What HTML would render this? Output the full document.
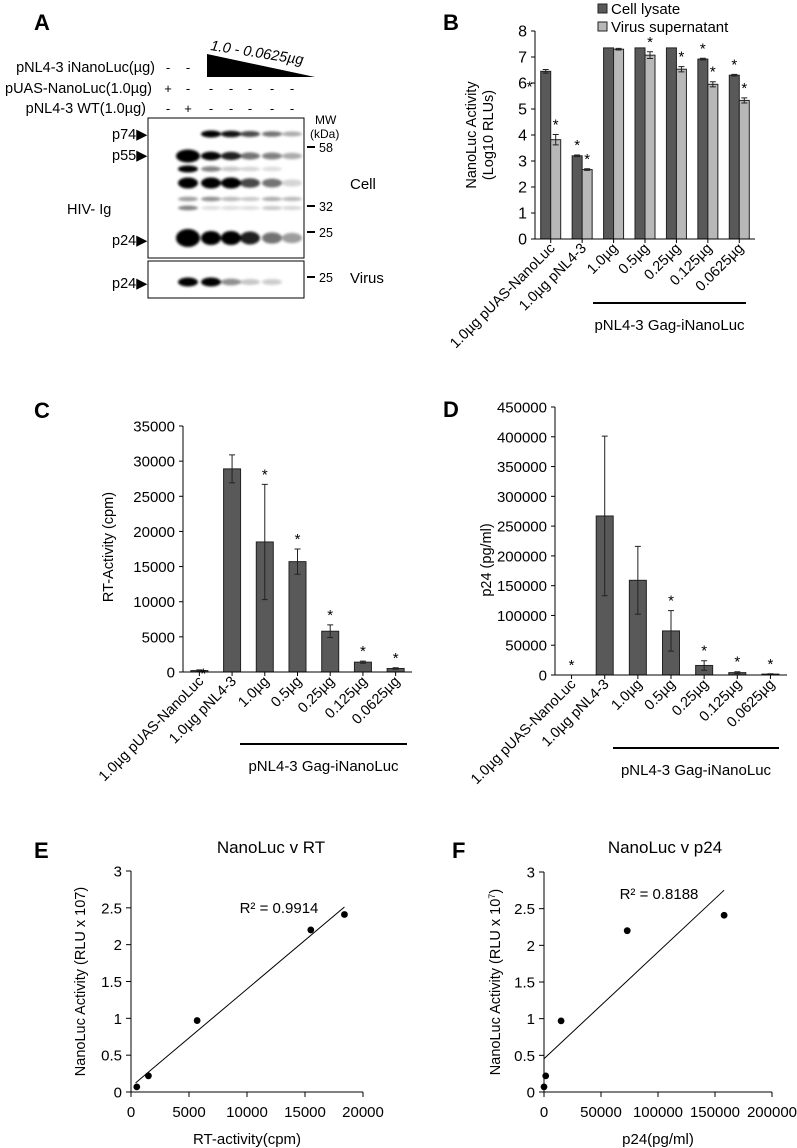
<!DOCTYPE html>
<html><head><meta charset="utf-8">
<style>
html,body{margin:0;padding:0;background:#fff;}
svg{display:block;font-family:"Liberation Sans",Arial,sans-serif;}
</style></head>
<body>
<svg id="fig" width="797" height="1148" viewBox="0 0 797 1148" xmlns="http://www.w3.org/2000/svg">
<defs>
<filter id="blur" x="-50%" y="-100%" width="200%" height="300%"><feGaussianBlur stdDeviation="1.3"/></filter>
</defs>
<g font-weight="bold" font-size="22" fill="#000">
<text x="34" y="30">A</text>
<text x="443" y="30">B</text>
<text x="34" y="418">C</text>
<text x="443" y="417">D</text>
<text x="34" y="858">E</text>
<text x="452" y="858">F</text>
</g>
<g id="blotA" font-size="14.5" fill="#000">
<text x="155" y="72" text-anchor="end">pNL4-3 iNanoLuc(µg)</text>
<text x="152" y="93" text-anchor="end">pUAS-NanoLuc(1.0µg)</text>
<text x="146" y="113" text-anchor="end">pNL4-3 WT(1.0µg)</text>
<polygon points="207,54 207,77 315,77" fill="#000"/>
<text x="210" y="50" font-style="italic" transform="rotate(9 210 50)">1.0 - 0.0625µg</text>
<rect x="148" y="118" width="156" height="140" fill="none" stroke="#000" stroke-width="1"/>
<rect x="148" y="261" width="156" height="37" fill="none" stroke="#000" stroke-width="1"/>
<text x="112" y="139">p74▶</text>
<text x="112" y="160">p55▶</text>
<text x="112" y="245">p24▶</text>
<text x="112" y="288">p24▶</text>
<text x="67" y="214">HIV- Ig</text>
<text x="315" y="124" font-size="12">MW</text>
<text x="310" y="138" font-size="12">(kDa)</text>
<g font-size="12.5">
<rect x="307" y="146" width="8" height="2"/><text x="319" y="152">58</text>
<rect x="307" y="205" width="8" height="2"/><text x="319" y="211">32</text>
<rect x="307" y="231" width="8" height="2"/><text x="319" y="237">25</text>
<rect x="307" y="276" width="8" height="2"/><text x="319" y="282">25</text>
</g>
<text x="350" y="189" font-size="15">Cell</text>
<text x="350" y="283" font-size="15">Virus</text>
<g id="signs" font-size="13"></g>
<g id="bands" filter="url(#blur)"></g>
</g>
<g id="chartB"></g>
<g id="chartC"></g>
<g id="chartD"></g>
<g id="chartE"></g>
<g id="chartF"></g>
</svg>
<script>
const NS='http://www.w3.org/2000/svg';
const categories=['1.0µg pUAS-NanoLuc','1.0µg pNL4-3','1.0µg','0.5µg','0.25µg','0.125µg','0.0625µg'];
const bTicks=['0','1','2','3','4','5','6','7','8'];
const bCellLysate=[6.45,3.2,7.35,7.35,7.35,6.92,6.3];
const bCellErr=[0.07,0.03,0,0,0,0.03,0.03];
const bVirus=[3.82,2.67,7.3,7.07,6.53,5.95,5.33];
const bVirusErr=[0.2,0.03,0.03,0.13,0.1,0.1,0.1];
const bCellStar=[1,1,0,0,0,1,1];
const bVirusStar=[1,1,0,1,1,1,1];
const cTicks=['0','5000','10000','15000','20000','25000','30000','35000'];
const cValues=[200,28900,18500,15700,5800,1400,500];
const cErr=[100,2000,8200,1800,900,150,100];
const cStar=[1,0,1,1,1,1,1];
const dTicks=['0','50000','100000','150000','200000','250000','300000','350000','400000','450000'];
const dValues=[0,267000,159000,74000,16000,4000,1500];
const dErr=[0,134000,57000,34000,8000,1500,500];
const dStar=[1,0,0,1,1,1,1];
const eX=[500,1500,5700,15500,18400];
const eY=[0.07,0.22,0.97,2.2,2.41];
const eXTicks=['0','5000','10000','15000','20000'];
const yTicks3=['0','0.5','1','1.5','2','2.5','3'];
const fX=[0,1500,15000,73000,158000];
const fY=[0.07,0.22,0.97,2.2,2.41];
const fXTicks=['0','50000','100000','150000','200000'];
const signInano=['-','-','','','','',''];
const signPuas=['+','-','-','-','-','-','-'];
const signWt=['-','+','-','-','-','-','-'];
const bandP74=[0,0,1,0.85,0.65,0.5,0.3];
const bandP55=[0,1,0.9,0.8,0.5,0.45,0.3];
const bandMid=[0,1,0.45,0.2,0.15,0.12,0];
const bandP41=[0,1,1,1,0.65,0.5,0.15];
const bandFaint=[0,0.35,0.4,0.25,0.2,0.3,0.25];
const bandFaint2=[0,0.45,0.12,0.12,0.12,0.2,0.15];
const bandP24=[0,1,1,1,0.8,0.5,0.35];
const bandVirus=[0,1,1,0.4,0.2,0.18,0];

function mk(tag,parent,attrs){const el=document.createElementNS(NS,tag);for(const k in attrs)el.setAttribute(k,attrs[k]);parent.appendChild(el);return el;}
function txt(parent,x,y,s,attrs,name){const el=mk('text',parent,Object.assign({x:x,y:y},attrs||{}));el.textContent=s;


return el;}

(function(){
 const laneX=[168,188,211,231,250,272,292];
 const signs=document.getElementById('signs');
 [[signInano,72],[signPuas,93],[signWt,113]].forEach((row,ri)=>{
  row[0].forEach((s,i)=>{if(s)txt(signs,laneX[i],row[1],s,{'text-anchor':'middle'},'sign-'+ri+'-'+i);});
 });
 const bands=document.getElementById('bands');
 const rows=[[bandP74,134,3.5,'p74'],[bandP55,156,4.5,'p55'],[bandMid,169,3.5,'p50'],[bandP41,183,5.5,'p41'],[bandFaint,199,3,'p33'],[bandFaint2,208,3,'p30'],[bandP24,238,7,'p24'],[bandVirus,282,4.5,'virus-p24']];
 rows.forEach(r=>{r[0].forEach((v,i)=>{if(v<=0)return;
  const big=(i===1&&(r[3]==='p24'||r[3]==='p55'))?2:0;
  const e=mk('ellipse',bands,{cx:laneX[i],cy:r[1],rx:10+big,ry:r[2]*(0.6+0.4*v)+big,fill:'#000','fill-opacity':Math.min(1,v*1.1)});
  
  
 });});
})();

function barChart(g,o){
 const x0=o.x0,x1=o.x1,y0=o.y0,y1=o.y1,n=categories.length,step=(x1-x0)/n;
 const ys=v=>y0-(v-o.min)/(o.max-o.min)*(y0-y1);
 const xc=i=>x0+step*(i+0.5);
 o.ticks.forEach((t,i)=>{const v=o.min+(o.max-o.min)*i/(o.ticks.length-1);const y=ys(v);
  const l=mk('line',g,{x1:x0-4,x2:x0,y1:y,y2:y,stroke:'#000'});
  
  
  txt(g,x0-8,y+5.5,t,{'text-anchor':'end','font-size':o.fs},'y-tick-label');
 });
 o.series.forEach((s,si)=>{
  s.vals.forEach((v,i)=>{
   const bx=xc(i)-o.bw*o.series.length/2+si*o.bw;
   const r=mk('rect',g,{x:bx,y:ys(v),width:o.bw,height:y0-ys(v),fill:s.fill,stroke:'#222','stroke-width':1});
   
   
   const cx=bx+o.bw/2,e=s.err[i];
   if(e>0){const p=mk('path',g,{d:`M${cx-3},${ys(v+e)}H${cx+3}M${cx},${ys(v+e)}V${ys(v-e)}M${cx-3},${ys(v-e)}H${cx+3}`,stroke:'#222','stroke-width':1,fill:'none'});
    
    }
   if(s.star[i]){let sx=cx,sy=ys(v+e)-5;
    if(s.starLeft&&i===0){sx=bx-11;sy=ys(v)+20;}
    if(o.starOnBar&&i===0){sy=ys(v)+8;sx=cx+4;}
    txt(g,sx,sy,'*',{'text-anchor':'middle','font-size':15},'significance-star');}
  });
 });
 const ax=mk('path',g,{d:`M${x0},${y1}V${y0}H${x1}`,stroke:'#000',fill:'none','stroke-width':1});
 
 
 categories.forEach((c,i)=>{const x=xc(i);
  const l=mk('line',g,{x1:x,x2:x,y1:y0,y2:y0+4,stroke:'#000'});
  
  
  const ax2=x+5,ay=y0+10;
  txt(g,ax2,ay,c,{'text-anchor':'end','font-size':14.5,transform:`rotate(-45 ${ax2} ${ay})`},'x-tick-label');
 });
 const gl=mk('line',g,{x1:o.gx0,x2:o.gx1,y1:o.gy,y2:o.gy,stroke:'#000','stroke-width':2});
 
 
 txt(g,(o.gx0+o.gx1)/2,o.gy+27,'pNL4-3 Gag-iNanoLuc',{'text-anchor':'middle','font-size':15},'group-label');
 const yl=o.ylab;
 yl.lines.forEach((s,k)=>{txt(g,yl.x+k*17,yl.y,s,{'text-anchor':'middle','font-size':14.5,transform:`rotate(-90 ${yl.x+k*17} ${yl.y})`},'y-axis-title');});
}

barChart(document.getElementById('chartB'),{x0:535,x1:755,y0:239,y1:31,min:0,max:8,ticks:bTicks,fs:16,bw:10,
 series:[{key:'cell-lysate',vals:bCellLysate,err:bCellErr,star:bCellStar,fill:'#595959',starLeft:true},{key:'virus-supernatant',vals:bVirus,err:bVirusErr,star:bVirusStar,fill:'#b8b8b8'}],
 gx0:593,gx1:746,gy:303,ylab:{x:476,y:135,lines:['NanoLuc Activity','(Log10 RLUs)']}});
(function(){const g=document.getElementById('chartB');
 [['#595959','Cell lysate',14],['#b8b8b8','Virus supernatant',32]].forEach((l,i)=>{
  const r=mk('rect',g,{x:598,y:l[2]-10,width:9,height:9,fill:l[0],stroke:'#222'});
  
  
  txt(g,611,l[2],l[1],{'font-size':15},'legend-entry-'+i);
 });})();

barChart(document.getElementById('chartC'),{x0:183,x1:412,y0:672,y1:426,min:0,max:35000,ticks:cTicks,fs:15,bw:17,
 series:[{key:'rt',vals:cValues,err:cErr,star:cStar,fill:'#595959'}],starOnBar:true,
 gx0:240,gx1:407,gy:744,ylab:{x:113,y:547,lines:['RT-Activity (cpm)']}});

barChart(document.getElementById('chartD'),{x0:555,x1:787,y0:675,y1:407,min:0,max:450000,ticks:dTicks,fs:15,bw:17,
 series:[{key:'p24',vals:dValues,err:dErr,star:dStar,fill:'#595959'}],
 gx0:613,gx1:779,gy:748,ylab:{x:491,y:560,lines:['p24 (pg/ml)']}});

function scatter(g,o){
 const xs=v=>o.x0+v/o.xmax*(o.x1-o.x0), ys=v=>o.y0-v/3*(o.y0-o.y1);
 yTicks3.forEach((t,i)=>{const y=ys(i*0.5);
  const l=mk('line',g,{x1:o.x0-5,x2:o.x0,y1:y,y2:y,stroke:'#000'});
  
  
  txt(g,o.x0-9,y+5.5,t,{'text-anchor':'end','font-size':15},'y-tick-label');});
 o.xt.forEach((t,i)=>{const x=xs(o.xmax*i/(o.xt.length-1));
  const l=mk('line',g,{x1:x,x2:x,y1:o.y0,y2:o.y0+5,stroke:'#000'});
  
  
  txt(g,x,o.y0+25,t,{'text-anchor':'middle','font-size':15},'x-tick-label');});
 const ax=mk('path',g,{d:`M${o.x0},${o.y1}V${o.y0}H${o.x1}`,stroke:'#000',fill:'none'});
 
 
 const n=o.X.length,mx=o.X.reduce((a,b)=>a+b)/n,my=o.Y.reduce((a,b)=>a+b)/n;
 let sxy=0,sxx=0;for(let i=0;i<n;i++){sxy+=(o.X[i]-mx)*(o.Y[i]-my);sxx+=(o.X[i]-mx)**2;}
 const m=sxy/sxx,b=my-m*mx;
 const la=o.lx0,lb=Math.max(...o.X);
 const tl=mk('line',g,{x1:xs(la),y1:ys(m*la+b),x2:xs(lb),y2:ys(m*lb+b),stroke:'#000','stroke-width':1});
 
 
 o.X.forEach((x,i)=>{const c=mk('circle',g,{cx:xs(x),cy:ys(o.Y[i]),r:3.4,fill:'#000'});
  
  });
 txt(g,o.tx,o.ty,o.title,{'text-anchor':'middle','font-size':17},'chart-title');
 txt(g,o.rx,o.ry,o.r2,{'text-anchor':'middle','font-size':15},'r-squared-label');
 txt(g,(o.x0+o.x1)/2,o.y0+52,o.xlab,{'text-anchor':'middle','font-size':15},'x-axis-title');
 const yl=mk('text',g,{x:o.ylx,y:(o.y0+o.y1)/2,'text-anchor':'middle','font-size':14.5,transform:`rotate(-90 ${o.ylx} ${(o.y0+o.y1)/2})`});
 
 
 yl.innerHTML=o.ylab;
}
scatter(document.getElementById('chartE'),{x0:131,x1:363,y0:1092,y1:871,xmax:20000,xt:eXTicks,X:eX,Y:eY,lx0:400,
 title:'NanoLuc v RT',tx:271,ty:853,r2:'R² = 0.9914',rx:279,ry:913,xlab:'RT-activity(cpm)',ylx:85,ylab:'NanoLuc Activity (RLU x 107)'});
scatter(document.getElementById('chartF'),{x0:544,x1:772,y0:1092,y1:872,xmax:200000,xt:fXTicks,X:fX,Y:fY,lx0:0,
 title:'NanoLuc v p24',tx:665,ty:853,r2:'R² = 0.8188',rx:659,ry:899,xlab:'p24(pg/ml)',ylx:500,ylab:'NanoLuc Activity (RLU x 10<tspan font-size="9" dy="-5">7</tspan><tspan dy="5">)</tspan>'});
</script>
</body></html>
